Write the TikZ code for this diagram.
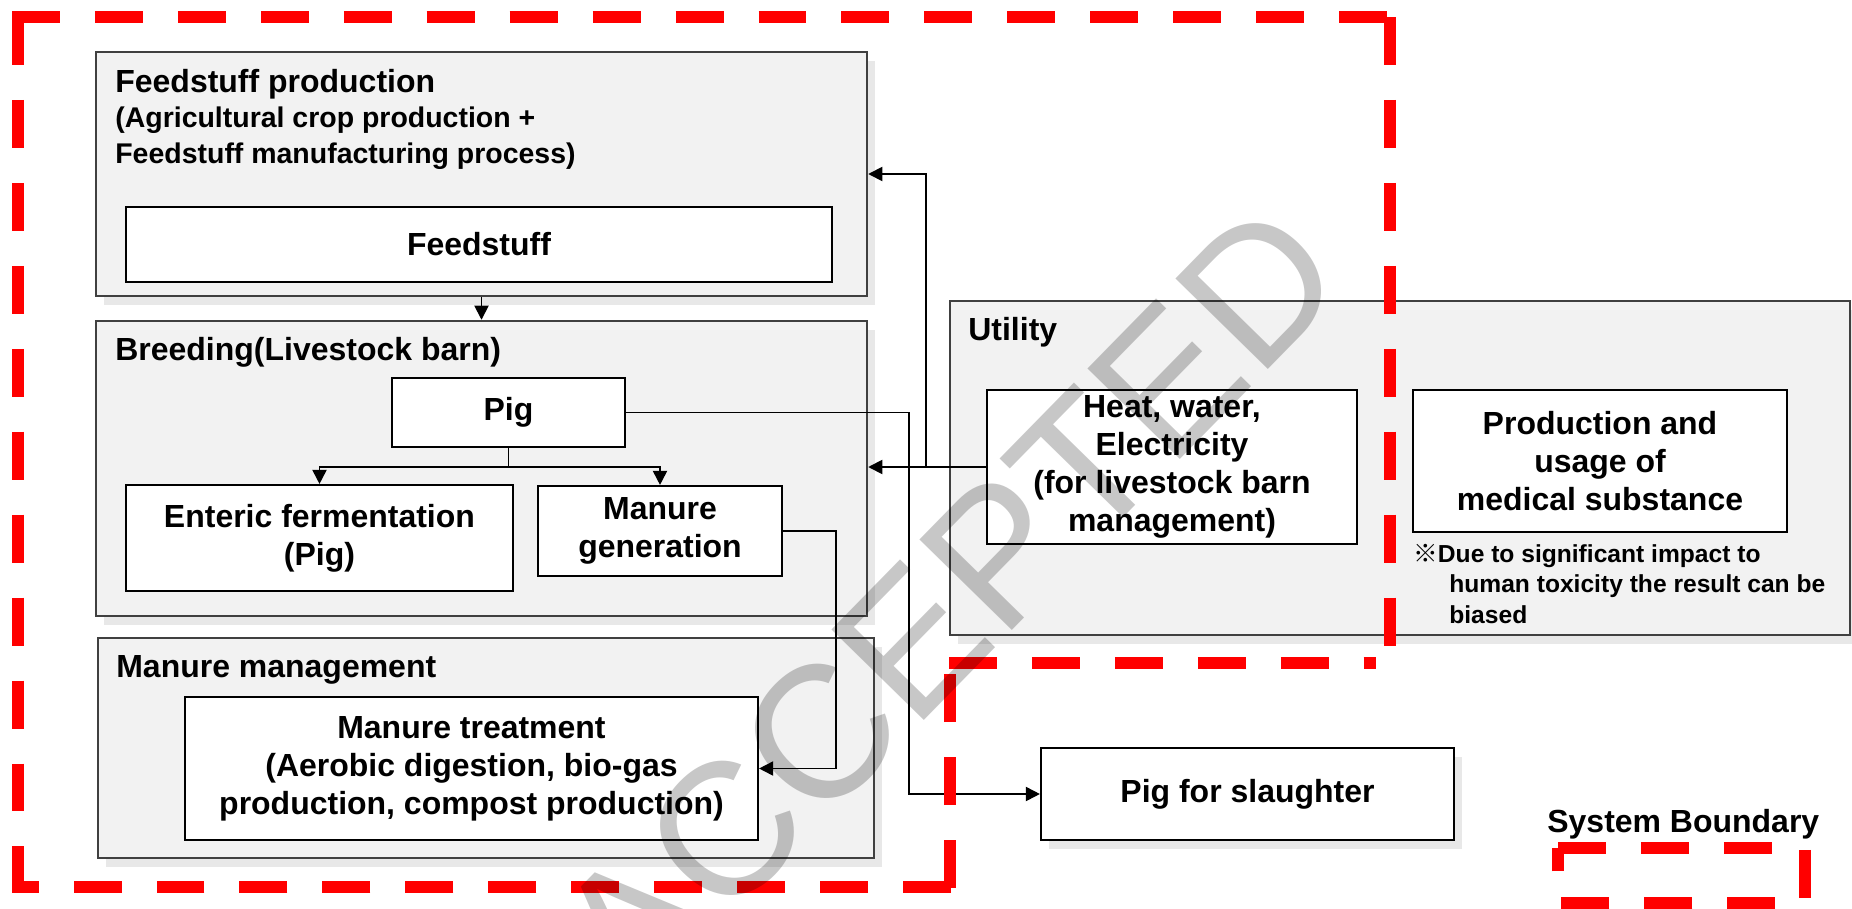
\documentclass[tikz,border=0pt]{standalone}
\usepackage{fontspec}
\setmainfont{Liberation Sans}
\newfontfamily\cjkfont{Noto Sans CJK SC}
\usepackage{tikz}
\usetikzlibrary{arrows.meta}
\usetikzlibrary{positioning}
\usetikzlibrary{calc,shapes,shadows}
\newcommand{\boxtextfont}{\fontsize{18.2}{21.6}\selectfont\bfseries}
\newcommand{\groupheadfont}{\fontsize{18.2}{20.1}\selectfont\bfseries}
\newcommand{\groupsubfont}{\fontsize{16.2}{20.1}\selectfont\bfseries}
\newcommand{\remarkfont}{\fontsize{14}{17.1}\selectfont\bfseries}
\newcommand{\stampfont}{\fontsize{107}{107}\selectfont}
\tikzset{
    groupbox/.style={
        draw=black!75,
        fill=black!5,
        line width=1.4pt,
        inner sep=0pt,
        drop shadow={shadow xshift=1.6mm, shadow yshift=-1.8mm, fill=black!9, opacity=1}
    },
    itembox/.style={
        draw=black,
        fill=white,
        line width=1.2pt,
        inner sep=0pt,
        align=center,
        font=\boxtextfont
    }
}

\begin{document}
\begin{tikzpicture}[x=0.2mm, y=-0.2mm]
  \tikzset{
    conn/.style={
      line width=1pt,
      -{Triangle[length=8pt, width=8pt]},
    },
    plainline/.style={
      line width=1pt,
    },
    boundary/.style={
      draw=red,
      line width=6.6pt,
      dash pattern=on 27.3pt off 19.9pt,
    },
    grouphead/.style={
      anchor=base west,
      inner sep=0pt,
      align=left,
      font=\groupheadfont,
    },
    remark/.style={
      anchor=base west,
      inner sep=0pt,
      align=left,
      font=\remarkfont,
    },
    watermark/.style={
      rotate=45.6,
      font=\stampfont,
      text=black,
      text opacity=0.22,
    }
  }
  \useasboundingbox (0,0) rectangle (1852,909);

  % Group boxes
  \node[groupbox, minimum width=154.2mm, minimum height=48.8mm] (feedprod) at (481.5,174) {};
  \node[groupbox, minimum width=154.2mm, minimum height=59mm] (breeding) at (481.5,468.5) {};
  \node[groupbox, minimum width=155.2mm, minimum height=44mm] (manmgmt) at (486,748) {};
  \node[groupbox, minimum width=180mm, minimum height=66.8mm] (utility) at (1400,468) {};

  % Group titles (multi-line: base is the last line)
  \node[grouphead] (feedhead) at (115,163) {Feedstuff production\\\groupsubfont (Agricultural crop production +\\\groupsubfont Feedstuff manufacturing process)};
  \node[grouphead] (breedhead) at (115,360) {Breeding(Livestock barn)};
  \node[grouphead] (manhead) at (116,677) {Manure management};
  \node[grouphead] (utilhead) at (968,340) {Utility};

  % Process boxes
  \node[itembox, minimum width=141.2mm, minimum height=15mm] (feedstuff) at (479,244.5) {Feedstuff};
  \node[itembox, minimum width=46.6mm, minimum height=13.8mm] (pig) at (508.5,412.5) {Pig};
  \node[itembox, minimum width=77.4mm, minimum height=21.2mm] (enteric) at (319.5,538) {Enteric fermentation\\(Pig)};
  \node[itembox, minimum width=48.8mm, minimum height=18mm] (mangen) at (660,531) {Manure\\generation};
  \node[itembox, minimum width=114.6mm, minimum height=28.6mm] (treatment) at (471.5,768.5) {Manure treatment\\(Aerobic digestion, bio-gas\\production, compost production)};
  \node[itembox, minimum width=74mm, minimum height=30.8mm] (heat) at (1172,467) {Heat, water,\\Electricity\\(for livestock barn\\management)};
  \node[itembox, minimum width=74.8mm, minimum height=28.4mm] (medical) at (1600,461) {Production and\\usage of\\medical substance};
  \node[itembox, minimum width=82.6mm, minimum height=18.4mm,
        drop shadow={shadow xshift=1.6mm, shadow yshift=-1.8mm, fill=black!9, opacity=1}] (slaughter) at (1247.5,794) {Pig for slaughter};

  % Remark
  \node[remark] (remarktext) at (1413,623) {{\cjkfont ※}Due to significant impact to\\\hspace*{7.2mm}human toxicity the result can be\\\hspace*{7.2mm}biased};

  % Flows
  \draw[conn] (feedprod.south) -- (breeding.north);
  \draw[plainline] (pig.south) -- ++(0,19) coordinate (split);
  \draw[conn] (split) -| (enteric.north);
  \draw[conn] (split) -| (mangen.north);

  \coordinate (pigbend) at (909,0);
  \coordinate (manbend) at (836,0);
  \coordinate (utilbend) at (926,0);
  \draw[conn] (pig.east) -- (pig.east -| pigbend) |- (slaughter.west);
  \draw[conn] (mangen.east) -- (mangen.east -| manbend) |- (treatment.east);
  \draw[conn] (heat.west) -- (heat.west -| breeding.east);
  \draw[conn] (heat.west -| utilbend) |- (feedprod.east);

  % System boundary
  \draw[boundary] (12,17) -- (1392,17);
  \draw[boundary] (1390,17) -- (1390,663);
  \draw[boundary] (949,663) -- (1376,663);
  \draw[boundary] (950,888) -- (950,663);
  \draw[boundary] (951,887) -- (12,887);
  \draw[boundary] (18,17) -- (18,893);

  % Legend
  \node[grouphead] (legendhead) at (1547,832) {System Boundary};
  \draw[boundary] (1558,848) -- (1805,848) -- (1805,903) -- (1558,903) -- cycle;

  % Watermark
  \node[watermark] (stamp) at (948,604) {ACCEPTED};
\end{tikzpicture}
\end{document}
